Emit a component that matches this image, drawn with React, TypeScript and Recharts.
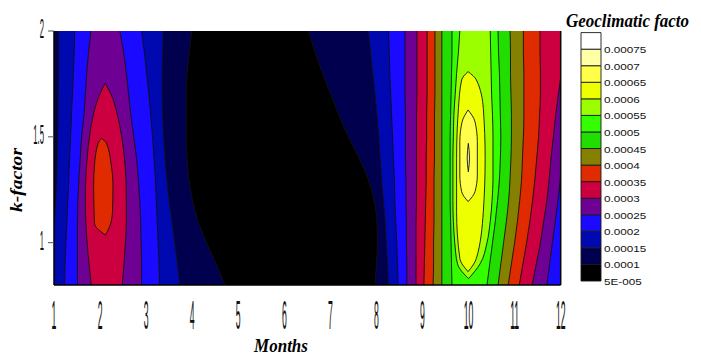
import React from 'react';
import { ComposedChart, Area, XAxis, YAxis, BarChart, Bar, Label } from 'recharts';

// ---------- axes / legend text ----------
const months = [1, 2, 3, 4, 5, 6, 7, 8, 9, 10, 11, 12];
const kTicks = [1, 1.5, 2];
const legendLabels = ['5E-005', '0.0001', '0.00015', '0.0002', '0.00025', '0.0003', '0.00035', '0.0004', '0.00045', '0.0005', '0.00055', '0.0006', '0.00065', '0.0007', '0.00075'];
const bandColors = ['#000000', '#00004e', '#0008b0', '#1a0aff', '#6e0094', '#cc0040', '#e02a00', '#858000', '#22dd00', '#33ff00', '#9cff00', '#eeff00', '#ffff4a', '#ffffa6', '#ffffff'];

// ---------- contour boundaries (months) read per k-factor row ----------
const kGrid = [0.8, 0.9, 1.0, 1.1, 1.2, 1.3, 1.4, 1.5, 1.6, 1.7, 1.8, 1.9, 2.0];
const edgeLeft = [1, 1, 1, 1, 1, 1, 1, 1, 1, 1, 1, 1, 1];
const edgeRight = [12, 12, 12, 12, 12, 12, 12, 12, 12, 12, 12, 12, 12];

// level 0.0001
const blackLeft = [4.71, 4.52, 4.31, 4.13, 4.01, 3.93, 3.89, 3.87, 3.87, 3.87, 3.89, 3.94, 3.99];
const blackRight = [7.97, 8.0, 8.02, 8.01, 7.95, 7.82, 7.62, 7.39, 7.19, 7.01, 6.83, 6.67, 6.52];
// level 0.00015
const midLeftLo = [1, 1, 1, 1.01, 1.04, 1.06, 1.07, 1.08, 1.09, 1.09, 1.1, 1.1, 1.1];
const midLeftHi = [3.73, 3.68, 3.62, 3.56, 3.5, 3.45, 3.41, 3.38, 3.36, 3.35, 3.35, 3.36, 3.37];
const midRightLo = [8.26, 8.24, 8.21, 8.19, 8.15, 8.11, 8.08, 8.05, 8.01, 7.97, 7.92, 7.87, 7.82];
// level 0.0002
const blueLeftLo = [1.23, 1.24, 1.26, 1.28, 1.3, 1.32, 1.34, 1.36, 1.38, 1.4, 1.42, 1.44, 1.45];
const blueLeftHi = [3.29, 3.28, 3.26, 3.24, 3.22, 3.2, 3.17, 3.14, 3.1, 3.06, 3.01, 2.96, 2.9];
const blueRightLo = [8.47, 8.46, 8.44, 8.42, 8.4, 8.39, 8.37, 8.35, 8.33, 8.31, 8.29, 8.28, 8.26];
// level 0.00025
const purpleLeftLo = [1.51, 1.51, 1.51, 1.51, 1.52, 1.54, 1.57, 1.6, 1.65, 1.68, 1.71, 1.75, 1.8];
const purpleLeftHi = [2.9, 2.9, 2.89, 2.88, 2.86, 2.83, 2.79, 2.73, 2.67, 2.62, 2.57, 2.51, 2.43];
const purpleRightLo = [8.66, 8.66, 8.65, 8.65, 8.64, 8.64, 8.63, 8.63, 8.63, 8.62, 8.62, 8.62, 8.62];
const purpleRightHi = [11.7, 11.76, 11.82, 11.88, 11.94, 11.99, 12, 12, 12, 12, 12, 12, 12];
// level 0.0003
const crimsonLeftK = [0.8, 0.9, 1.0, 1.1, 1.2, 1.3, 1.4, 1.5, 1.6, 1.7, 1.753];
const crimsonLeftLo = [1.81, 1.76, 1.72, 1.69, 1.68, 1.69, 1.72, 1.77, 1.85, 1.99, 2.11];
const crimsonLeftHi = [2.48, 2.52, 2.55, 2.57, 2.57, 2.56, 2.53, 2.47, 2.38, 2.24, 2.11];
const crimsonRightLo = [8.86, 8.86, 8.86, 8.86, 8.87, 8.87, 8.87, 8.87, 8.87, 8.88, 8.88, 8.88, 8.88];
const crimsonRightHi = [11.38, 11.47, 11.56, 11.63, 11.7, 11.75, 11.79, 11.84, 11.89, 11.95, 12, 12, 12];
// level 0.00035
const redLeftK = [1.036, 1.09, 1.15, 1.27, 1.37, 1.47, 1.493];
const redLeftLo = [2.12, 1.88, 1.87, 1.86, 1.88, 1.96, 2.03];
const redLeftHi = [2.12, 2.23, 2.27, 2.28, 2.24, 2.14, 2.03];
const redRightLo = [9.03, 9.04, 9.05, 9.06, 9.07, 9.08, 9.08, 9.09, 9.09, 9.1, 9.1, 9.1, 9.1];
const redRightHi = [11.1, 11.18, 11.26, 11.33, 11.39, 11.44, 11.48, 11.52, 11.54, 11.56, 11.56, 11.55, 11.55];
// level 0.0004
const oliveLo = [9.23, 9.24, 9.24, 9.25, 9.25, 9.25, 9.26, 9.26, 9.26, 9.27, 9.27, 9.27, 9.27];
const oliveHi = [10.86, 10.93, 11.0, 11.06, 11.11, 11.15, 11.17, 11.19, 11.2, 11.2, 11.2, 11.19, 11.19];
// level 0.00045
const greenLo = [9.42, 9.42, 9.42, 9.42, 9.42, 9.42, 9.42, 9.42, 9.42, 9.42, 9.42, 9.42, 9.42];
const greenHi = [10.64, 10.7, 10.76, 10.82, 10.87, 10.9, 10.92, 10.93, 10.93, 10.92, 10.91, 10.91, 10.9];
// level 0.0005
const brightLo = [9.64, 9.63, 9.62, 9.61, 9.6, 9.6, 9.6, 9.6, 9.61, 9.62, 9.63, 9.64, 9.64];
const brightHi = [10.4, 10.46, 10.52, 10.58, 10.63, 10.67, 10.69, 10.7, 10.69, 10.68, 10.67, 10.65, 10.64];
// level 0.00055
const ygK = [0.83, 0.9, 1.0, 1.1, 1.2, 1.3, 1.4, 1.5, 1.6, 1.7, 1.8, 1.9, 2.0];
const ygLo = [10.0, 9.76, 9.7, 9.67, 9.66, 9.66, 9.66, 9.67, 9.68, 9.71, 9.74, 9.78, 9.81];
const ygHi = [10.0, 10.25, 10.4, 10.47, 10.51, 10.53, 10.53, 10.53, 10.52, 10.5, 10.49, 10.48, 10.47];
// level 0.0006
const yellowK = [0.863, 0.926, 1.146, 1.398, 1.634, 1.769, 1.808];
const yellowLo = [9.99, 9.81, 9.74, 9.74, 9.78, 9.85, 9.99];
const yellowHi = [9.99, 10.17, 10.32, 10.36, 10.32, 10.17, 9.99];
// level 0.00065
const lightK = [1.194, 1.241, 1.32, 1.477, 1.571, 1.627];
const lightLo = [9.99, 9.85, 9.81, 9.81, 9.86, 9.99];
const lightHi = [9.99, 10.14, 10.19, 10.19, 10.14, 9.99];
// level 0.0007
const paleK = [1.335, 1.4, 1.469];
const paleLo = [9.995, 9.97, 9.995];
const paleHi = [9.995, 10.02, 9.995];

type Region = { name: string; band: number; k: number[]; lo: number[]; hi: number[]; line?: boolean };
const regions: Region[] = [
  { name: 'base', band: 0, k: kGrid, lo: edgeLeft, hi: edgeRight, line: false },
  { name: 'navyL', band: 1, k: kGrid, lo: edgeLeft, hi: blackLeft },
  { name: 'navyR', band: 1, k: kGrid, lo: blackRight, hi: edgeRight },
  { name: 'midL', band: 2, k: kGrid, lo: midLeftLo, hi: midLeftHi },
  { name: 'midR', band: 2, k: kGrid, lo: midRightLo, hi: edgeRight },
  { name: 'blueL', band: 3, k: kGrid, lo: blueLeftLo, hi: blueLeftHi },
  { name: 'blueR', band: 3, k: kGrid, lo: blueRightLo, hi: edgeRight },
  { name: 'purL', band: 4, k: kGrid, lo: purpleLeftLo, hi: purpleLeftHi },
  { name: 'purR', band: 4, k: kGrid, lo: purpleRightLo, hi: purpleRightHi },
  { name: 'crL', band: 5, k: crimsonLeftK, lo: crimsonLeftLo, hi: crimsonLeftHi },
  { name: 'crR', band: 5, k: kGrid, lo: crimsonRightLo, hi: crimsonRightHi },
  { name: 'rdL', band: 6, k: redLeftK, lo: redLeftLo, hi: redLeftHi },
  { name: 'rdR', band: 6, k: kGrid, lo: redRightLo, hi: redRightHi },
  { name: 'ol', band: 7, k: kGrid, lo: oliveLo, hi: oliveHi },
  { name: 'gr', band: 8, k: kGrid, lo: greenLo, hi: greenHi },
  { name: 'bg', band: 9, k: kGrid, lo: brightLo, hi: brightHi },
  { name: 'yg', band: 10, k: ygK, lo: ygLo, hi: ygHi },
  { name: 'ye', band: 11, k: yellowK, lo: yellowLo, hi: yellowHi },
  { name: 'lt', band: 12, k: lightK, lo: lightLo, hi: lightHi },
  { name: 'pa', band: 13, k: paleK, lo: paleLo, hi: paleHi },
];

const allK = Array.from(new Set(regions.flatMap((r) => r.k))).sort((a, b) => a - b);
const table = allK.map((k) => {
  const row: Record<string, any> = { k };
  regions.forEach((r) => {
    const i = r.k.indexOf(k);
    if (i >= 0) row[r.name] = [r.lo[i], r.hi[i]];
  });
  return row;
});

const legendRow: Record<string, any> = { name: 'legend' };
bandColors.forEach((_, i) => {
  legendRow['b' + i] = 1;
});
const legendData = [legendRow];

const SERIF = '"Liberation Serif", "Times New Roman", serif';
const SANS = '"Liberation Sans", Arial, sans-serif';

const MonthTick = (props: any) => {
  const { x, y, payload } = props;
  return (
    <text transform={`translate(${x},${y + 44}) scale(0.62,2.9)`} textAnchor="middle" fontFamily={SANS} fontSize={14} fill="#111">
      {payload.value}
    </text>
  );
};

const KTick = (props: any) => {
  const { x, y, payload } = props;
  return (
    <text transform={`translate(${x - 2},${y + 7}) scale(0.55,1.95)`} textAnchor="end" fontFamily={SANS} fontSize={14} fill="#111">
      {payload.value}
    </text>
  );
};

const LegendTick = (props: any) => {
  const { x, y, payload } = props;
  return (
    <text transform={`translate(${x},${y + 4}) scale(1,0.75)`} textAnchor="start" fontFamily={SANS} fontSize={11.7} fill="#111">
      {legendLabels[payload.value]}
    </text>
  );
};

export default function App() {
  return (
    <div style={{ position: 'absolute', left: 0, top: 0, width: 701, height: 356, background: '#fff' }}>
      <div style={{ position: 'absolute', left: 0, top: 0 }}>
        <ComposedChart width={701} height={356} layout="vertical" data={table} margin={{ top: 31, right: 0, bottom: 0, left: 0 }}>
          {regions.map((r) => (
            <Area
              key={r.name}
              dataKey={(row: any) => row[r.name] ?? [null, null]}
              type="monotone"
              connectNulls
              fill={bandColors[r.band]}
              fillOpacity={1}
              stroke={r.line === false ? 'none' : '#111'}
              strokeWidth={0.9}
              dot={false}
              activeDot={false}
              isAnimationActive={false}
            />
          ))}
          <XAxis
            type="number"
            domain={[1, 12]}
            ticks={months}
            interval={0}
            allowDataOverflow
            height={71}
            tickSize={0}
            tickMargin={0}
            tickLine={false}
            axisLine={{ stroke: '#000', strokeWidth: 1.5 }}
            tick={<MonthTick />}
          >
            <Label
              content={() => (
                <text transform="translate(281,352) scale(1,1.15)" textAnchor="middle" fontFamily={SERIF} fontWeight="bold" fontStyle="italic" fontSize={17} fill="#000">
                  Months
                </text>
              )}
            />
          </XAxis>
          <XAxis xAxisId="top" orientation="top" type="number" domain={[1, 12]} allowDataOverflow height={0} tick={false} tickLine={false} axisLine={{ stroke: '#000', strokeWidth: 1.5 }} />
          <YAxis
            type="number"
            dataKey="k"
            domain={[0.8, 2]}
            reversed
            ticks={kTicks}
            interval={0}
            allowDataOverflow
            width={54}
            tickSize={6}
            tickMargin={2}
            tickLine={{ stroke: '#555' }}
            axisLine={{ stroke: '#000', strokeWidth: 1.5 }}
            tick={<KTick />}
          >
            <Label
              content={() => (
                <text transform="translate(22,180) rotate(-90) scale(1.15,1)" textAnchor="middle" fontFamily={SERIF} fontWeight="bold" fontStyle="italic" fontSize={17} fill="#000">
                  k-factor
                </text>
              )}
            />
          </YAxis>
          <YAxis
            yAxisId="r"
            orientation="right"
            type="number"
            dataKey="k"
            domain={[0.8, 2]}
            reversed
            ticks={kTicks}
            interval={0}
            width={140.3}
            tickSize={7}
            tick={false}
            tickLine={{ stroke: '#555' }}
            axisLine={{ stroke: '#000', strokeWidth: 1.5 }}
          />
        </ComposedChart>
      </div>
      <div style={{ position: 'absolute', left: 0, top: 0 }}>
        <BarChart width={701} height={356} data={legendData} margin={{ top: 32.6, right: 0, bottom: 75, left: 581 }} barCategoryGap={0}>
          <XAxis dataKey="name" hide />
          <YAxis
            orientation="right"
            type="number"
            domain={[0, 15]}
            ticks={[0, 1, 2, 3, 4, 5, 6, 7, 8, 9, 10, 11, 12, 13, 14]}
            interval={0}
            width={100}
            tickSize={0}
            tickMargin={3}
            tickLine={false}
            axisLine={false}
            tick={<LegendTick />}
          >
            <Label
              content={() => (
                <text transform="translate(566,27) scale(1,1.15)" textAnchor="start" fontFamily={SERIF} fontWeight="bold" fontStyle="italic" fontSize={17} fill="#000">
                  Geoclimatic facto
                </text>
              )}
            />
          </YAxis>
          {bandColors.map((c, i) => (
            <Bar key={i} dataKey={'b' + i} stackId="a" fill={c} stroke="#1a1a1a" strokeWidth={0.9} isAnimationActive={false} />
          ))}
        </BarChart>
      </div>
    </div>
  );
}
